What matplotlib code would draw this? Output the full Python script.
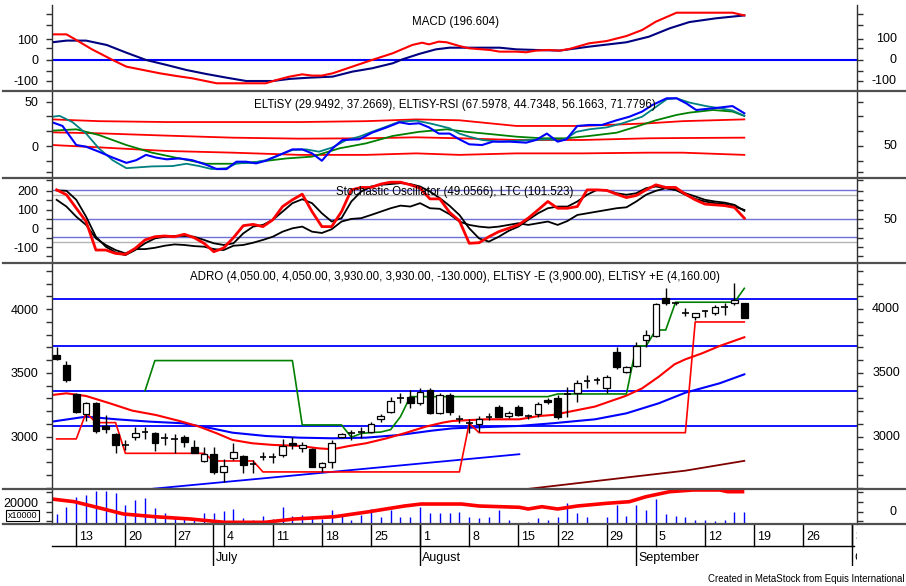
import matplotlib
matplotlib.use("Agg")
import matplotlib.pyplot as plt
from matplotlib.lines import Line2D
from matplotlib.patches import Rectangle
import matplotlib.transforms as mtransforms

plt.rcParams['font.family'] = ['Liberation Sans Narrow', 'Liberation Sans', 'DejaVu Sans']

# ---------------- data (bar index = trading day, 0 = 9 Jun) ----------------
week_idx = [2, 7, 12, 17, 22, 27, 32, 37, 42, 47, 51, 56, 61, 66, 71, 76, 81]
week_lbl = ['13', '20', '27', '4', '11', '18', '25', '1', '8', '15', '22', '29', '5', '12', '19', '26', '3']
month_idx = [16, 37, 59, 81]
month_lbl = ['July', 'August', 'September', 'October']

opens = [3641, 3563, 3335, 3178, 3267, 3080, 3021, 2935, 3000, 3040, 3031, 2987, 2979, 3000, 2916, 2809,
         2864, 2720, 2830, 2851, 2785, 2843, 2838, 2856, 2953, 2910, 2901, 2759, 2798, 2995, 3031, 3037,
         3039, 3136, 3196, 3301, 3314, 3262, 3366, 3183, 3327, 3136, 3110, 3099, 3157, 3236, 3162, 3230,
         3162, 3178, 3288, 3301, 3330, 3345, 3432, 3440, 3385, 3667, 3510, 3555, 3759, 3790, 4086, 4052,
         3973, 3937, 3989, 3973, 4015, 4047, 4050]
highs = [3701, 3597, 3345, 3275, 3275, 3170, 3026, 2974, 3073, 3078, 3035, 3026, 3021, 3013, 2974, 2921,
         2916, 2822, 2953, 2856, 2817, 2882, 2874, 2979, 2995, 2961, 2908, 2804, 2974, 3026, 3052, 3078,
         3118, 3178, 3309, 3340, 3366, 3384, 3379, 3340, 3340, 3170, 3136, 3160, 3183, 3249, 3200, 3245,
         3180, 3275, 3300, 3327, 3390, 3445, 3484, 3471, 3484, 3707, 3555, 3746, 3837, 4052, 4164, 4055,
         4008, 3973, 3997, 4034, 4052, 4204, 4050]
lows = [3600, 3432, 3188, 3120, 3031, 3026, 2869, 2895, 2974, 2979, 2890, 2935, 2874, 2921, 2869, 2804,
        2707, 2647, 2817, 2712, 2712, 2817, 2791, 2843, 2900, 2882, 2759, 2725, 2751, 2990, 2974, 2987,
        3026, 3118, 3188, 3267, 3222, 3249, 3178, 3178, 3170, 3105, 3031, 3040, 3131, 3152, 3150, 3160,
        3140, 3157, 3255, 3136, 3157, 3275, 3379, 3414, 3340, 3528, 3497, 3544, 3706, 3780, 4034, 4034,
        3945, 3916, 3937, 3955, 3955, 4034, 3930]
closes = [3607, 3445, 3196, 3262, 3045, 3062, 2932, 2930, 3031, 3038, 2948, 2985, 2977, 2961, 2874, 2861,
          2720, 2770, 2877, 2778, 2783, 2841, 2836, 2927, 2937, 2932, 2764, 2791, 2953, 3021, 3029, 3035,
          3097, 3162, 3283, 3299, 3262, 3353, 3183, 3327, 3196, 3134, 3108, 3136, 3155, 3157, 3188, 3170,
          3160, 3256, 3270, 3157, 3335, 3419, 3434, 3442, 3471, 3544, 3544, 3712, 3798, 4039, 4052, 4050,
          3970, 3968, 3987, 4021, 4013, 4073, 3930]

volume = [8970, 15790, 24200, 26300, 29900, 29900, 27800, 17300, 21800, 23300, 14900, 9870, 6820, 6280,
          4490, 9870, 9870, 11900, 13700, 5380, 3860, 7450, 4490, 15200, 7710, 8340, 7450, 4490, 12800,
          7450, 3860, 8340, 13500, 6280, 12800, 6280, 6280, 15200, 9870, 9870, 10400, 11300, 6820, 5380,
          6280, 12800, 3860, 900, 2330, 5380, 3860, 6820, 19400, 10400, 6820, 1440, 6820, 17300, 7710,
          17300, 12800, 22700, 9240, 7450, 6820, 3860, 3860, 3230, 3860, 11300, 11300]
volma_x = [-0.5, 1.8, 4.5, 6.8, 10.0, 13.6, 17.1, 21.2, 24.2, 28.3, 31.8, 35.4, 37.1, 41.2, 43.0, 47.1,
           48.0, 49.4, 51.0, 53.0, 56.0, 58.3, 60.0, 62.4, 64.8, 67.5, 68.3, 70.0]
volma_y = [22690, 20270, 14350, 9240, 6820, 4750, 1790, 1790, 4750, 6820, 11300, 16400, 18200, 18200,
           16400, 15250, 13720, 15790, 13720, 16400, 18840, 20270, 24760, 29240, 30770, 30770, 29240, 29240]

# MACD panel
macd_x = [-0.44, 1, 2, 3.6, 5.7, 7.1, 8.8, 10.5, 12.2, 13.8, 16.3, 17.9, 21.3, 22.4, 23.7, 25, 26, 27, 28.1,
          30.1, 32.1, 34.2, 36.2, 37.2, 37.9, 38.9, 39.7, 41, 42, 44.1, 45.1, 46.8, 47.8, 48.8, 50.1, 51.2,
          52.2, 54.2, 56, 58, 59.6, 61, 63.1, 68.8, 70]
macd_y = [123, 123, 96, 51, 0, -32, -48, -64, -77, -88, -112, -112, -112, -96, -80, -69, -75, -75, -64,
          -32, 0, 32, 72, 83, 75, 88, 85, 67, 56, 48, 40, 40, 37, 45, 48, 45, 53, 80, 91, 115, 144, 184,
          227, 227, 214]
sig_x = [-0.44, 1, 3, 5.1, 7.1, 9.1, 11.2, 13.2, 15.2, 17.3, 19.3, 22, 23.7, 25.7, 28.1, 30.1, 32.1, 34.2,
         35.2, 36.9, 38.6, 40, 45.1, 46.8, 48.8, 51.2, 54.2, 58, 60.3, 62.4, 64.4, 67.1, 70]
sig_y = [85, 93, 93, 72, 35, 0, -24, -48, -67, -85, -101, -101, -91, -85, -80, -56, -40, -16, 3, 29, 51,
         59, 59, 51, 48, 45, 64, 85, 112, 152, 182, 200, 214]

# ELTiSY panel
band_x = [-0.44, 4.3, 11.2, 17.9, 24.7, 31.5, 36.6, 41, 46.8, 53.5, 60.3, 63.7, 70]
band_hi = [30, 28, 27, 27, 27, 28, 30, 29, 22.6, 22.6, 25.6, 28, 30]
band_mid = [15.4, 14.3, 11.7, 9.4, 8.3, 8.7, 9.8, 8.7, 6.8, 6.8, 8.7, 9.0, 9.4]
band_lo = [1.1, -1.5, -5.6, -7.5, -10, -10, -8.3, -10, -8.3, -8.3, -7.5, -7.5, -10]
teal_x = [-0.44, 0.3, 1.6, 3, 4.3, 5.7, 7.1, 8.4, 9.7, 11.8, 13.2, 14.5, 15.8, 17.3, 18.3, 19.9, 21.3, 22.7,
          24, 25.4, 26.7, 28.1, 29.5, 30.8, 32.1, 33.6, 34.9, 36.6, 38.2, 40, 41, 42, 43.3, 45.1, 46.8, 48.4,
          50.1, 51.2, 51.9, 52.9, 54.2, 56, 57.6, 59.6, 61, 62.1, 63.1, 64.4, 66.1, 67.5, 68.8, 70]
teal_y = [33, 34, 27, 14, -2.6, -16, -25, -24, -23, -22.6, -20, -22.6, -26, -25, -19.6, -19, -16, -10,
          -4.5, -3.8, -6.4, -1.5, 6.8, 10.5, 16, 22, 27.5, 28.6, 25, 20, 14, 10.5, 6.8, 4.9, 6, 6.8, 7.5,
          6, 8.7, 16, 18.8, 21, 25.6, 33, 44, 52.7, 53.8, 49, 45, 42.5, 40, 34]
blue_x = [-0.44, 0.6, 2, 3, 4.3, 5.7, 7.1, 8.1, 9.1, 10.1, 11.2, 12.5, 13.8, 15.2, 16.3, 17.3, 18.3, 19.3,
          20.3, 21.3, 22.7, 24, 25, 26, 27, 28.1, 29.1, 30.8, 32.1, 33.6, 34.9, 35.9, 36.9, 37.9, 38.9, 40,
          41, 42, 43.3, 44.4, 46.1, 47.8, 48.8, 49.9, 51, 51.9, 53, 54.2, 55.5, 57, 58.3, 59.6, 60.6, 62.1,
          63.1, 64.1, 65.1, 66.8, 68.8, 70]
blue_y = [26.7, 22.6, 1.1, -0.8, -6.4, -13, -19, -16, -10, -13, -15, -14, -16, -21, -26, -26, -17.7,
          -17.7, -19.6, -16.6, -10, -3.8, -3.8, -8.3, -16.6, -2.6, 6.8, 7.5, 15, 21, 26.7, 24.8, 25.6, 21,
          14, 14, 7.5, 1.9, 1.1, 4.9, 4.9, 3.8, 6.8, 14, 4.9, 7.5, 22.6, 23.7, 23.7, 29, 33, 38.8, 46, 53.8,
          53.8, 48, 40.6, 42.5, 45, 36.9]
green_x = [-0.44, 2, 4.3, 7.1, 9.7, 12.5, 15.2, 17.9, 20.6, 23.4, 26, 28.8, 31.5, 34.2, 36.9, 39.7, 41.7,
           44.1, 46.8, 49.4, 51.9, 54.2, 57, 59, 61, 63.1, 64.4, 66.8, 68.8, 70]
green_y = [17.3, 18.8, 12.4, 1.1, -7.5, -14, -20, -20, -17.7, -14, -12, -2.6, 3, 11.3, 16, 18.8, 16, 13.5,
           10.5, 8.7, 8.7, 11.3, 15, 21.8, 29, 35, 37.6, 40.6, 38.8, 33.9]

# Stochastic panel (one value per bar)
stoch_red = [205, 179, 107, 36, -116, -116, -134, -139, -107, -62, -45, -41, -45, -32, -50, -80, -125,
             -105, -50, 14, 21, 9, 45, 116, 152, 182, 89, 9, 9, 89, 205, 218, 218, 236, 246, 246, 232, 214,
             157, 157, 85, 40, -80, -77, -45, -18, 0, 18, 54, 98, 143, 107, 107, 116, 205, 205, 202, 182,
             164, 175, 205, 232, 218, 218, 182, 152, 129, 125, 121, 111, 54]
stoch_d = [202, 200, 152, 62, -45, -98, -129, -143, -116, -80, -54, -45, -41, -41, -45, -62, -80, -89, -80,
           -27, 9, 18, 45, 89, 134, 155, 134, 80, 36, 54, 143, 196, 223, 232, 236, 241, 236, 223, 196, 161,
           120, 71, 0, -54, -71, -45, -14, 9, 45, 80, 107, 116, 116, 143, 179, 205, 202, 187, 179, 187, 214,
           223, 214, 205, 179, 157, 143, 134, 129, 116, 98]
ltc = [152, 116, 62, 18, -54, -89, -116, -134, -111, -111, -104, -93, -86, -89, -95, -98, -111, -116, -93,
       -89, -77, -62, -45, -18, 0, 9, -18, -25, -5, 36, 50, 54, 71, 89, 107, 121, 116, 134, 107, 104, 75,
       36, 18, 9, 4, 9, 18, 27, 18, 27, 36, 18, 39, 71, 80, 89, 98, 107, 112, 143, 179, 200, 214, 205, 187,
       170, 152, 143, 137, 125, 93]
stoch_blue_levels = [205, 48, -48]
stoch_gray_levels = [178, -75]

# Price overlays
price_levels = [4078, 3712, 3358, 3086]
ma_red_x = [-0.44, 1, 3, 5.4, 7.7, 10.1, 12.5, 14.5, 16.3, 17.9, 19.9, 22, 24.7, 26.7, 28.1, 29.8, 31.5,
            33.6, 35.6, 37.6, 39.3, 40.3, 43.6, 47.1, 49.1, 50.5, 52.2, 54.8, 57.9, 59.6, 61.3, 62.9, 64,
            65.7, 67.5, 70]
ma_red_y = [3327, 3340, 3319, 3262, 3204, 3170, 3123, 3079, 3026, 2974, 2948, 2935, 2927, 2908, 2901, 2927,
            2948, 2987, 3031, 3079, 3110, 3123, 3136, 3136, 3162, 3170, 3196, 3236, 3319, 3379, 3471, 3568,
            3607, 3654, 3712, 3780]
ma_blue_x = [-0.44, 3, 6.1, 9.4, 12.8, 15.8, 17.9, 21.3, 24.7, 28.1, 31.5, 34.9, 38.2, 40.3, 43.6, 47.1,
             50.5, 54.8, 58, 61.3, 64, 67.5, 70]
ma_blue_y = [3118, 3157, 3136, 3118, 3105, 3065, 3031, 3005, 2992, 2987, 2992, 3013, 3047, 3065, 3075,
             3084, 3105, 3136, 3183, 3262, 3345, 3419, 3489]
trend_blue_x = [9.65, 47.1]
trend_blue_y = [2590, 2862]
trend_maroon_x = [47.9, 64, 70]
trend_maroon_y = [2589, 2733, 2810]
stop_up_x = list(range(9, 71))
stop_up = [3360] + [3597] * 15 + [3092] * 5 + [2995, 3025, 3032, 3036, 3055, 3157] + [3314] * 15 + \
          [3335] * 8 + [3712, 3712, 3837, 3837] + [4055] * 7 + [4164]
stop_dn_x = list(range(0, 71))
stop_dn = [2982, 2982, 2982, 3188, 3110, 3110, 3110] + [2869] * 9 + [2809] * 5 + [2723] * 21 + \
          [3105] + [3031] * 22 + [3900] * 6

# ---------------- layout helpers ----------------
W, H = 906, 586
XL, XR = 52.3, 857.3
XMIN, XMAX = -0.44, 81.5
fig = plt.figure(figsize=(W / 100, H / 100), dpi=100)
fig.patch.set_facecolor('white')


def add_ax(top, bot):
    ax = fig.add_axes([XL / W, 1 - bot / H, (XR - XL) / W, (bot - top) / H])
    ax.set_xlim(XMIN, XMAX)
    ax.set_facecolor('none')
    for s in ('top', 'bottom'):
        ax.spines[s].set_visible(False)
    for s in ('left', 'right'):
        ax.spines[s].set_color('#303030')
        ax.spines[s].set_linewidth(1.0)
    ax.set_xticks([])
    ax.tick_params(axis='y', which='both', direction='out', left=True, right=True,
                   labelleft=True, labelright=False, color='#303030', width=1, labelsize=9, pad=6)
    ax.tick_params(axis='y', which='major', length=4)
    ax.tick_params(axis='y', which='minor', length=4)
    return ax


def right_label(ax, val, s, xpx=897):
    tr = mtransforms.blended_transform_factory(fig.transFigure, ax.transData)
    fig.text(xpx / W, val, s, transform=tr, ha='right', va='center', fontsize=9)


def title(ypx, s):
    fig.text(455 / W, 1 - ypx / H, s, ha='center', va='center', fontsize=8.3)


def hsep(ypx):
    fig.add_artist(Line2D([3 / W, 1], [1 - ypx / H] * 2, color='#505050', lw=1.6))


# ---------------- MACD ----------------
ax1 = add_ax(5, 91)
ax1.set_ylim(-149, 264)
ax1.axhline(0, color='#0000ff', lw=1.5)
ax1.plot(sig_x, sig_y, color='#000080', lw=1.5)
ax1.plot(macd_x, macd_y, color='#ff0000', lw=1.5)
ax1.set_yticks([100, 0, -100], ['100', '0', '-100'])
ax1.set_yticks([221, 168, 56, -53], minor=True)
for v, s in [(100, '100'), (0, '0'), (-100, '-100')]:
    right_label(ax1, v, s)
title(21.7, 'MACD (196.604)')

# ---------------- ELTiSY ----------------
ax2 = add_ax(91, 177.5)
ax2.set_ylim(-35.5, 62)
for b in (band_hi, band_mid, band_lo):
    ax2.plot(band_x, b, color='#ff0000', lw=1.3)
ax2.plot(green_x, green_y, color='#008000', lw=1.3)
ax2.plot(teal_x, teal_y, color='#008080', lw=1.3)
ax2.plot(blue_x, blue_y, color='#0000ff', lw=1.5)
ax2.set_yticks([50, 0], ['50', '0'])
ax2.set_yticks([33.3, 16.7, -16.7, -29], minor=True)
right_label(ax2, 0, '50')
title(105, 'ELTiSY (29.9492, 37.2669), ELTiSY-RSI (67.5978, 44.7348, 56.1663, 71.7796)')

# ---------------- Stochastic ----------------
ax3 = add_ax(177.5, 262.6)
ax3.set_ylim(-183, 271)
for v in stoch_gray_levels:
    ax3.axhline(v, color='#b4b4b4', lw=1.0)
for v in stoch_blue_levels:
    ax3.axhline(v, color='#7070d8', lw=1.0)
bars = list(range(len(stoch_red)))
ax3.plot(bars, ltc, color='black', lw=1.3)
ax3.plot(bars, stoch_d, color='black', lw=1.3)
ax3.plot(bars, stoch_red, color='#ff0000', lw=2.0)
ax3.set_yticks([200, 100, 0, -100], ['200', '100', '0', '-100'])
ax3.set_yticks([255, 150, 50, -50, -150], minor=True)
right_label(ax3, 45, '50')
title(191.7, 'Stochastic Oscillator (49.0566), LTC (101.523)')

# ---------------- Price ----------------
ax4 = add_ax(262.6, 489)
ax4.set_ylim(2589, 4366)
for v in price_levels:
    ax4.axhline(v, color='#0000ff', lw=1.3)
ax4.plot(trend_blue_x, trend_blue_y, color='#0000ff', lw=1.3)
ax4.plot(trend_maroon_x, trend_maroon_y, color='#800000', lw=1.3)
ax4.plot(ma_blue_x, ma_blue_y, color='#0000ff', lw=1.5)
ax4.plot(ma_red_x, ma_red_y, color='#ff0000', lw=1.5)
ax4.plot(stop_dn_x, stop_dn, color='#ff0000', lw=1.2)
ax4.plot(stop_up_x, stop_up, color='#008000', lw=1.2)
bw = 0.68
for i, (o, h, l, c) in enumerate(zip(opens, highs, lows, closes)):
    ax4.vlines(i, l, h, color='black', lw=1.0, zorder=4)
    if abs(c - o) < 8:
        ax4.hlines((o + c) / 2, i - bw / 2, i + bw / 2, color='black', lw=1.2, zorder=5)
    else:
        fc = 'black' if c < o else 'white'
        ax4.add_patch(Rectangle((i - bw / 2, min(o, c)), bw, abs(c - o), facecolor=fc,
                                edgecolor='black', lw=0.9, zorder=5))
ax4.set_yticks([4000, 3500, 3000], ['4000', '3500', '3000'])
ax4.set_yticks([v for v in range(2600, 4400, 100) if v not in (3000, 3500, 4000)], minor=True)
for v in (4000, 3500, 3000):
    right_label(ax4, v, str(v), xpx=900)
title(276.7, 'ADRO (4,050.00, 4,050.00, 3,930.00, 3,930.00, -130.000), ELTiSY -E (3,900.00), ELTiSY +E (4,160.00)')

# ---------------- Volume ----------------
ax5 = add_ax(489, 524.3)
ax5.set_ylim(0, 31660)
ax5.vlines(list(range(len(volume))), 0, volume, color='#0000ff', lw=1.0)
ax5.plot(volma_x, volma_y, color='#ff0000', lw=2.6, solid_capstyle='butt')
ax5.set_yticks([20000], ['20000'])
ax5.set_yticks([29240, 11000, 3230], minor=True)
right_label(ax5, 11200, '0')
fig.text(22.5 / W, 1 - 515.5 / H, 'x10000', ha='center', va='center', fontsize=6.5,
         bbox=dict(boxstyle='square,pad=0.15', fc='white', ec='black', lw=0.8))

# ---------------- Date axis ----------------
ax6 = fig.add_axes([XL / W, 1 - 566 / H, (XR - XL) / W, (566 - 524.3) / H])
ax6.set_xlim(XMIN, XMAX)
ax6.set_ylim(0, 1)
ax6.axis('off')
row = (566 - 546) / (566 - 524.3)
ax6.plot([XMIN, XMAX - 0.3], [row, row], color='black', lw=1.0, clip_on=False)
for x, s in zip(week_idx, week_lbl):
    ax6.plot([x, x], [row, 1], color='black', lw=1.0)
    ax6.text(x + 0.3, (566 - 537) / 41.7, s, ha='left', va='center', fontsize=9, clip_on=True)
for x, s in zip(month_idx, month_lbl):
    ax6.plot([x - 0.05, x - 0.05], [0, 1], color='black', lw=1.0)
    ax6.text(x + 0.2, (566 - 558) / 41.7, s, ha='left', va='center', fontsize=9, clip_on=True)

# ---------------- separators & footer ----------------
for y in (91, 177.5, 262.6, 489, 524.3):
    hsep(y)
fig.text(904 / W, 1 - 579 / H, 'Created in MetaStock from Equis International', ha='right', va='center',
         fontsize=6.9)

fig.savefig('out.png', dpi=100)
